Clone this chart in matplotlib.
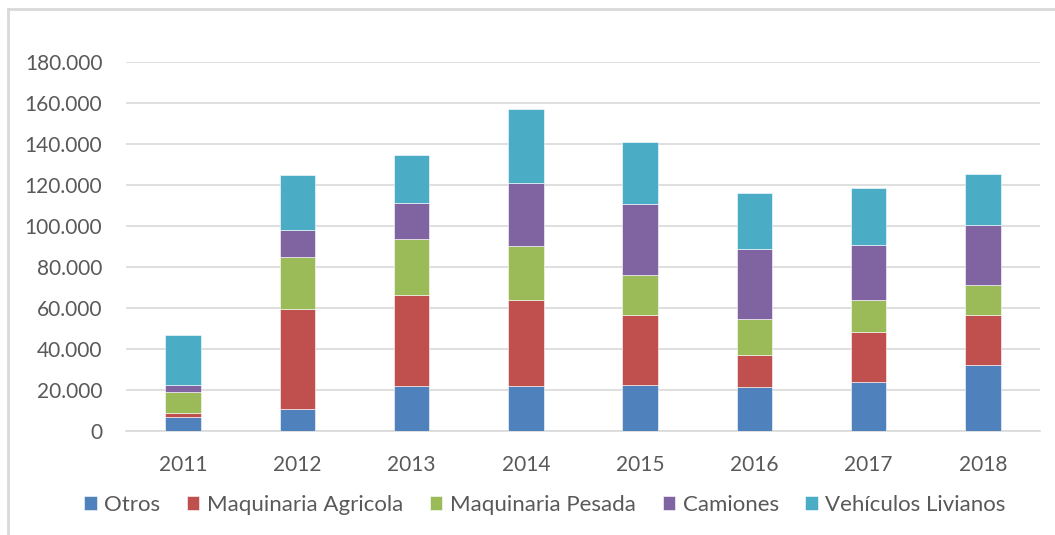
import numpy as np
import matplotlib.pyplot as plt
from matplotlib.ticker import FuncFormatter, MultipleLocator
from matplotlib.lines import Line2D

years = ['2011', '2012', '2013', '2014', '2015', '2016', '2017', '2018']
otros = [6800, 10600, 21800, 21900, 22400, 21300, 23900, 32000]
agricola = [2000, 48700, 44300, 41900, 34400, 15600, 24200, 24800]
pesada = [10000, 25600, 27600, 26600, 19500, 17500, 15600, 14300]
camiones = [3600, 13100, 17300, 30700, 34200, 34200, 26900, 29400]
livianos = [24300, 26800, 23400, 36200, 30600, 27500, 27900, 25000]

series = [
    ('Otros', otros, '#4f81bd'),
    ('Maquinaria Agricola', agricola, '#c0504d'),
    ('Maquinaria Pesada', pesada, '#9bbb59'),
    ('Camiones', camiones, '#8064a2'),
    ('Vehículos Livianos', livianos, '#4bacc6'),
]

plt.rcParams['font.family'] = ['Lato', 'DejaVu Sans']

fig = plt.figure(figsize=(10.55, 5.35), dpi=100)
ax = fig.add_axes([126 / 1055, 1 - 431 / 535, 914 / 1055, (431 - 62) / 535])

x = np.arange(len(years))
bottom = np.zeros(len(years))
for name, vals, col in series:
    ax.bar(x, vals, 0.31, bottom=bottom, color=col, label=name, zorder=3,
           edgecolor='#ffffff', linewidth=0.4)
    bottom += np.array(vals)

ax.set_xlim(-0.5, len(years) - 0.5)
ax.set_ylim(0, 180000)
ax.yaxis.set_major_locator(MultipleLocator(20000))
ax.yaxis.set_major_formatter(FuncFormatter(lambda v, p: f"{v:,.0f}".replace(",", ".")))
ax.set_xticks(x)
ax.set_xticklabels(years)
ax.grid(axis='y', color='#d9d9d9', linewidth=1.2, zorder=0)
for s in ['top', 'right', 'left']:
    ax.spines[s].set_visible(False)
ax.spines['bottom'].set_color('#d9d9d9')
ax.spines['bottom'].set_linewidth(1.2)
ax.tick_params(length=0, colors='#595959', labelsize=15)
ax.tick_params(axis='y', pad=17)
ax.tick_params(axis='x', pad=17)

fig.legend(loc='center', bbox_to_anchor=(545 / 1055, 1 - 505 / 535), ncol=5,
           frameon=False, fontsize=16, labelcolor='#595959', handlelength=0.55,
           handleheight=0.55, handletextpad=0.35, columnspacing=1.2)

# outer chart border (top and left visible)
fig.add_artist(Line2D([8 / 1055, 8 / 1055], [0, 1 - 9 / 535], transform=fig.transFigure,
                      color='#d9d9d9', linewidth=2))
fig.add_artist(Line2D([8 / 1055, 1], [1 - 9 / 535, 1 - 9 / 535], transform=fig.transFigure,
                      color='#d9d9d9', linewidth=2))

fig.savefig('out.png', dpi=100)
